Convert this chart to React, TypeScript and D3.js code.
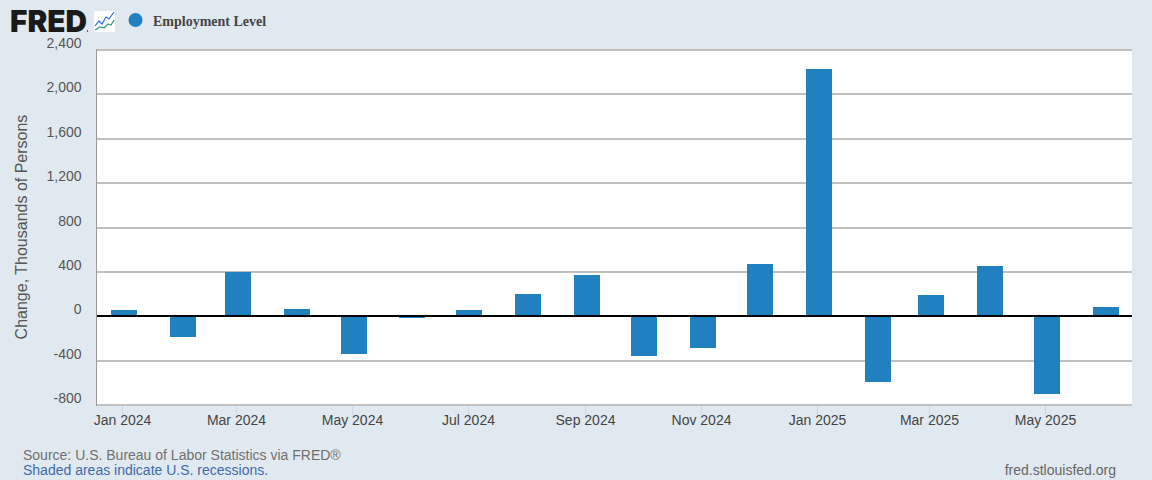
import React from "react";
import * as d3 from "d3";

const months = ["2024-01","2024-02","2024-03","2024-04","2024-05","2024-06","2024-07","2024-08","2024-09","2024-10","2024-11","2024-12","2025-01","2025-02","2025-03","2025-04","2025-05","2025-06"];
const values = [54,-190,397,63,-343,-18,54,199,370,-361,-289,470,2230,-596,190,451,-704,81];
const yTicks = [-800,-400,0,400,800,1200,1600,2000,2400];
const xTickMonths = ["2024-01","2024-03","2024-05","2024-07","2024-09","2024-11","2025-01","2025-03","2025-05"];
const seriesName = "Employment Level";
const yTitle = "Change, Thousands of Persons";
const sourceText = "Source: U.S. Bureau of Labor Statistics via FRED®";
const shadedText = "Shaded areas indicate U.S. recessions.";
const siteText = "fred.stlouisfed.org";

const W = 1152, H = 480;
const plot = { left: 97, right: 1132, top: 50, bottom: 405 };
const BG = "#e1e9f0", BAR = "#2080c0", GRID = "#c0c0c0", TICK = "#ccd6eb";
const FONT = "'Liberation Sans', Arial, sans-serif";
const parse = d3.utcParse("%Y-%m");
const fmtMonth = d3.utcFormat("%b %Y");
const fmtVal = d3.formatLocale({ decimal: ".", thousands: ",", grouping: [3], currency: ["$", ""], minus: "-" }).format(",");

const x = d3.scaleUtc().domain([parse("2024-01")!, parse("2025-06")!]).range([124, 1106]);
const y = d3.scaleLinear().domain([-800, 2400]).range([plot.bottom, plot.top]);
const BAR_W = 26;

const logoBlue = d3.line()([[95,26],[99,21],[102,24],[106,17],[109,19],[114,12]]) as string;
const logoGreen = d3.line()([[95,30],[100,27],[104,28],[108,24],[111,25],[114,20]]) as string;

export default function App() {
  const y0 = Math.round(y(0));
  return (
    <svg width={W} height={H} viewBox={`0 0 ${W} ${H}`} style={{ position: "fixed", left: 0, top: 0, display: "block" }} fontFamily={FONT}>
      <rect width={W} height={H} fill={BG} />
      <rect x={plot.left} y={plot.top} width={plot.right - plot.left} height={plot.bottom - plot.top} fill="#fff" />

      {yTicks.filter(t => t !== 0).map(t => (
        <line key={t} x1={plot.left} x2={plot.right} y1={Math.round(y(t))} y2={Math.round(y(t))} stroke={GRID} strokeWidth={2} />
      ))}
      <line x1={96.5} x2={96.5} y1={plot.top - 1} y2={plot.bottom + 1} stroke="#999" strokeWidth={1} />

      {xTickMonths.map(m => {
        const px = Math.floor(x(parse(m)!) - 1.5) + 0.5;
        return (
          <g key={m}>
            <line x1={px} x2={px} y1={plot.bottom + 1} y2={plot.bottom + 10} stroke={TICK} strokeWidth={1} />
            <text x={px} y={425} textAnchor="middle" fontSize={14} fill="#444">{fmtMonth(parse(m)!)}</text>
          </g>
        );
      })}

      {months.map((m, i) => {
        const yv = Math.round(y(values[i]));
        const left = Math.floor(x(parse(m)!) - BAR_W / 2 + 0.2);
        return <rect key={m} x={left} y={Math.min(yv, y0)} width={BAR_W} height={Math.abs(yv - y0)} fill={BAR} />;
      })}
      <line x1={plot.left} x2={plot.right} y1={y0} y2={y0} stroke="#000" strokeWidth={2} />

      {yTicks.map(t => (
        <text key={t} x={81.5} y={y(t) - 2} textAnchor="end" fontSize={14} fill="#555">{fmtVal(t)}</text>
      ))}
      <text transform="translate(27,227) rotate(-90)" textAnchor="middle" fontSize={16} fill="#555">{yTitle}</text>

      <text x={10} y={32} fontFamily="Inter, Roboto, sans-serif" fontWeight={900} fontSize={30.5} fill="#1a1a1a" textLength={77} lengthAdjust="spacingAndGlyphs">FRED</text>
      <circle cx={87.5} cy={31} r={0.7} fill="#1a1a1a" />
      <rect x={93.5} y={10.5} width={22} height={22} rx={2} fill="#fff" stroke="#d5dde5" strokeWidth={0.6} />
      <path d={logoBlue} fill="none" stroke="#2b6fd6" strokeWidth={1.2} />
      <path d={logoGreen} fill="none" stroke="#2f9e84" strokeWidth={1.2} />

      <circle cx={135.5} cy={20} r={7} fill={BAR} />
      <text x={153} y={26} fontFamily="'Liberation Serif', serif" fontWeight={700} fontSize={14} fill="#444">{seriesName}</text>

      <text x={23} y={460} fontSize={14} fill="#707070">{sourceText}</text>
      <text x={23} y={475} fontSize={14} fill="#3c6aa8">{shadedText}</text>
      <text x={1116} y={475} textAnchor="end" fontSize={14} fill="#666">{siteText}</text>
    </svg>
  );
}
